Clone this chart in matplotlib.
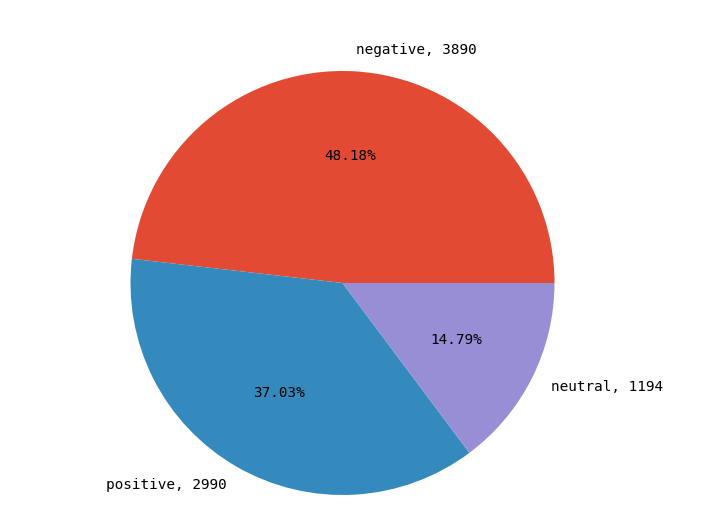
import matplotlib
matplotlib.use("Agg")
import matplotlib.pyplot as plt

labels = ["negative", "positive", "neutral"]
counts = [3890, 2990, 1194]
colors = ["#E24A33", "#348ABD", "#988ED5"]

W, H, DPI = 705, 532, 100
fig = plt.figure(figsize=(W / DPI, H / DPI), dpi=DPI)
ax = fig.add_axes([0, 0, 1, 1])

font = dict(family=["DejaVu Sans Mono"], size=10.4, color="black")
texts_labels = [f"{l}, {c}" for l, c in zip(labels, counts)]
ax.pie(counts, labels=texts_labels, colors=colors, autopct="%.2f%%",
       textprops=font)

cx, cy, r = 342.5, 283.0, 212.0
ax.set_aspect("auto")
ax.set_xlim(-cx / r, (W - cx) / r)
ax.set_ylim(-(H - cy) / r, cy / r)
ax.axis("off")

fig.savefig("out.png", dpi=DPI)
